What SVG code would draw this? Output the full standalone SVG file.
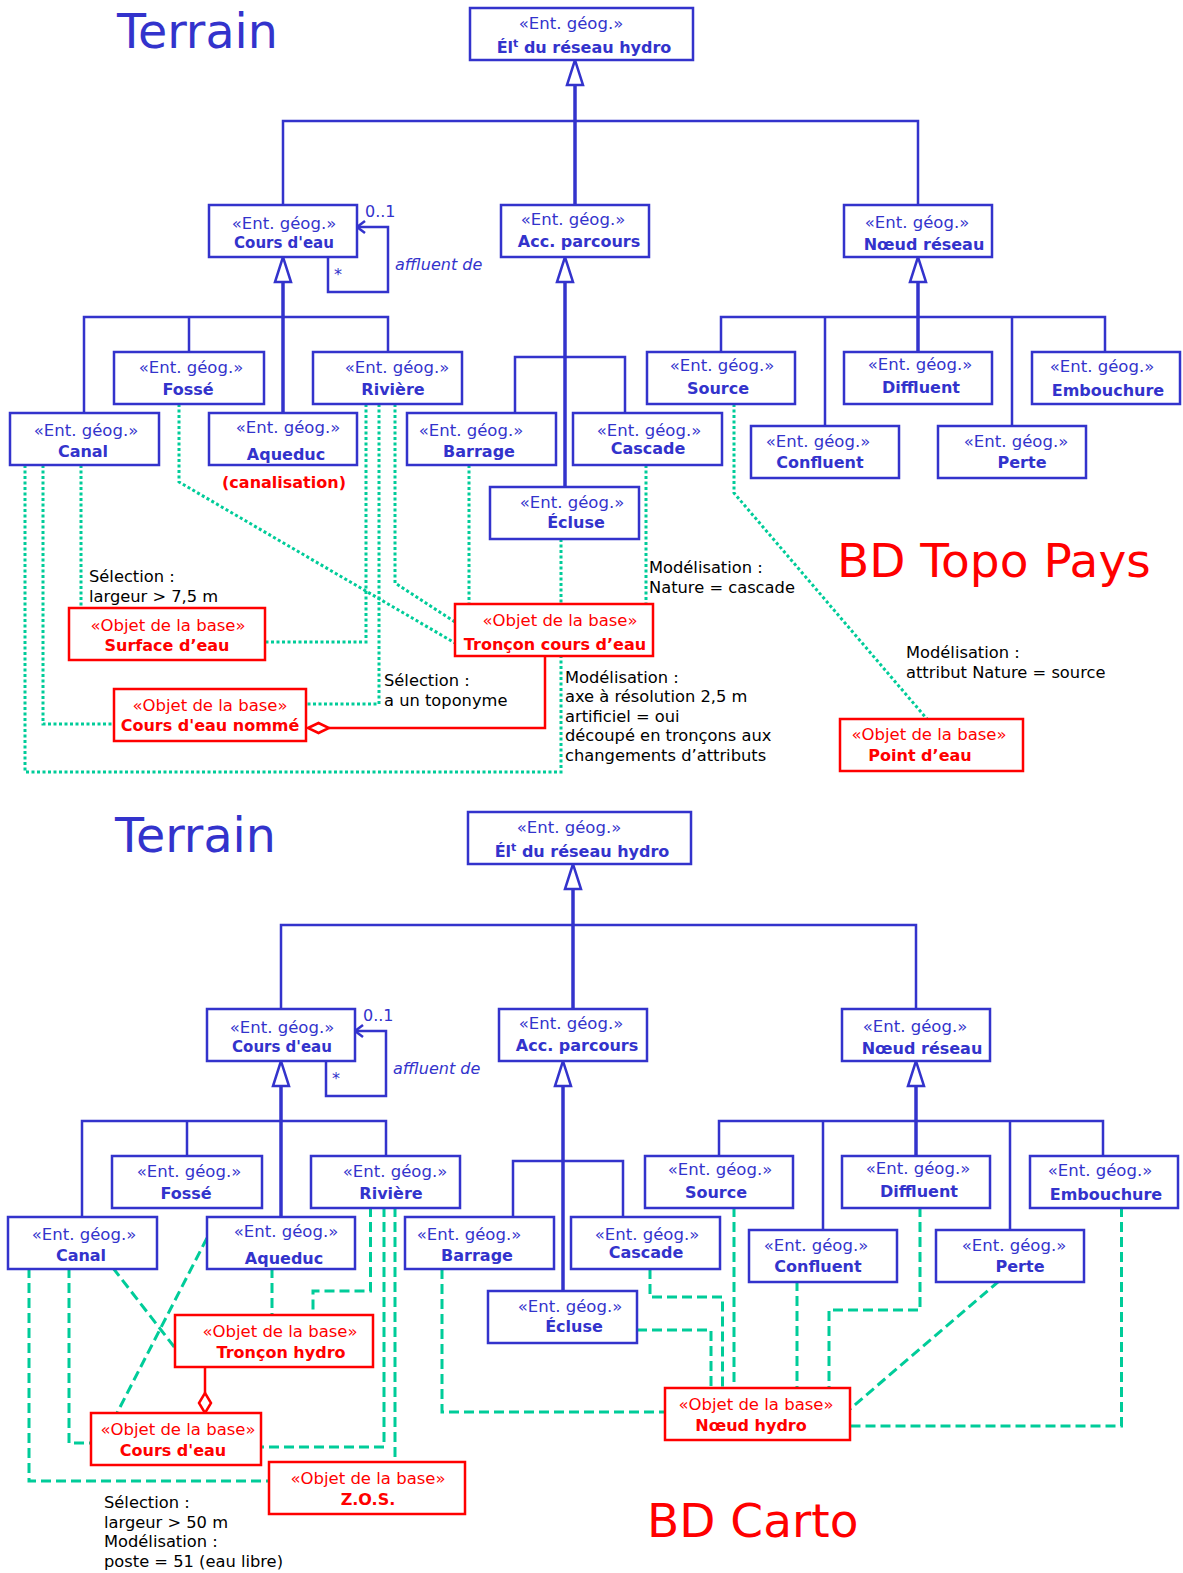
<svg xmlns="http://www.w3.org/2000/svg" width="1183" height="1573" viewBox="0 0 1183 1573">
<defs>
<style>
text{font-family:"DejaVu Sans",Verdana,sans-serif}
.bx{fill:#fff;stroke:#3333cc;stroke-width:2.5}
.rx{fill:#fff;stroke:#ff0000;stroke-width:2.5}
.st{font-size:16.5px;fill:#3333cc;text-anchor:middle}
.nm{font-size:16px;font-weight:bold;fill:#3333cc;text-anchor:middle}
.rs{font-size:16.5px;fill:#ff0000;text-anchor:middle}
.rn{font-size:16px;font-weight:bold;fill:#ff0000;text-anchor:middle}
.an{font-size:16.3px;fill:#000}
.lb{font-size:16px;fill:#3333cc}
.tb{font-size:47.5px;fill:#3333cc}
.tr{font-size:47px;fill:#ff0000}
.gl{fill:none;stroke:#3333cc;stroke-width:2.5}
.tk{fill:none;stroke:#3333cc;stroke-width:3.5}
.tri{fill:#fff;stroke:#3333cc;stroke-width:2.5}
.dot{fill:none;stroke:#00cc99;stroke-width:3;stroke-dasharray:3 2.5}
.dsh{fill:none;stroke:#00cc99;stroke-width:3;stroke-dasharray:10 5}
.ag{fill:none;stroke:#ff0000;stroke-width:2.5}
.dia{fill:#fff;stroke:#ff0000;stroke-width:2.5}
</style>
</defs>
<rect width="1183" height="1573" fill="#fff"/>

<!-- ================= TOP : BD Topo Pays ================= -->
<text class="tb" x="117" y="48">Terrain</text>
<text class="tr" x="837" y="577">BD Topo Pays</text>

<g id="top-generalisations">
<path class="tk" d="M575,85 V205"/>
<polygon class="tri" points="575,60 567,85 583,85"/>
<path class="gl" d="M283,205 V121 H918 V205"/>
<path class="tk" d="M283,282 V413"/>
<polygon class="tri" points="283,257 275,282 291,282"/>
<path class="gl" d="M84,413 V317 H388 V352 M189,317 V352"/>
<path class="tk" d="M565,282 V487"/>
<polygon class="tri" points="565,257 557,282 573,282"/>
<path class="gl" d="M515,413 V357 H625 V413"/>
<path class="tk" d="M918,282 V352"/>
<polygon class="tri" points="918,257 910,282 926,282"/>
<path class="gl" d="M721,352 V317 H1105 V352 M825,317 V426 M1012,317 V426"/>
<path class="gl" d="M357,227 H388 V292 H328 V257"/>
<path class="gl" d="M365,221 L357,227 L365,233"/>
<text class="lb" x="365" y="217">0..1</text>
<text class="lb" x="334" y="280">*</text>
<text class="lb" x="395" y="270" font-style="italic">affluent de</text>
</g>

<g id="top-correspondances">
<polyline class="dot" points="179,404 179,482 455,643"/>
<polyline class="dot" points="366,404 366,642 265,642"/>
<polyline class="dot" points="379,404 379,704 306,704"/>
<polyline class="dot" points="395,404 395,583 455,622"/>
<polyline class="dot" points="81,465 81,608"/>
<polyline class="dot" points="43,465 43,724 114,724"/>
<polyline class="dot" points="25,465 25,772 561,772 561,657"/>
<polyline class="dot" points="469,465 469,604"/>
<polyline class="dot" points="561,539 561,604"/>
<polyline class="dot" points="646,465 646,604"/>
<polyline class="dot" points="734,404 734,493 927,719"/>
<path class="ag" d="M329,728 H545 V657"/>
<polygon class="dia" points="308,728 318.5,723 329,728 318.5,733"/>
</g>

<g id="top-annotations">
<text class="an" x="89" y="582">Sélection :</text>
<text class="an" x="89" y="602">largeur &gt; 7,5 m</text>
<text class="an" x="649" y="573">Modélisation :</text>
<text class="an" x="649" y="593">Nature = cascade</text>
<text class="an" x="384" y="686">Sélection :</text>
<text class="an" x="384" y="706">a un toponyme</text>
<text class="an" x="565" y="683">Modélisation :</text>
<text class="an" x="565" y="702">axe à résolution 2,5 m</text>
<text class="an" x="565" y="722">artificiel = oui</text>
<text class="an" x="565" y="741">découpé en tronçons aux</text>
<text class="an" x="565" y="761">changements d’attributs</text>
<text class="an" x="906" y="658">Modélisation :</text>
<text class="an" x="906" y="678">attribut Nature = source</text>
</g>

<g id="t-root"><rect class="bx" x="470" y="8" width="223" height="52"/><text class="st" x="571" y="29">«Ent. géog.»</text><text class="nm" x="584" y="53">Él<tspan font-size="11" dy="-6">t</tspan><tspan dy="6"> du réseau hydro</tspan></text></g>
<g id="t-coursdeau"><rect class="bx" x="209" y="205" width="148" height="52"/><text class="st" x="284" y="229">«Ent. géog.»</text><text class="nm" x="284" y="248" style="font-size:15px">Cours d'eau</text></g>
<g id="t-accparcours"><rect class="bx" x="501" y="205" width="148" height="52"/><text class="st" x="573" y="225">«Ent. géog.»</text><text class="nm" x="579" y="247">Acc. parcours</text></g>
<g id="t-noeudreseau"><rect class="bx" x="844" y="205" width="148" height="52"/><text class="st" x="917" y="228">«Ent. géog.»</text><text class="nm" x="924" y="250">Nœud réseau</text></g>
<g id="t-fosse"><rect class="bx" x="114" y="352" width="150" height="52"/><text class="st" x="191" y="373">«Ent. géog.»</text><text class="nm" x="188" y="395">Fossé</text></g>
<g id="t-riviere"><rect class="bx" x="313" y="352" width="149" height="52"/><text class="st" x="397" y="373">«Ent. géog.»</text><text class="nm" x="393" y="395">Rivière</text></g>
<g id="t-canal"><rect class="bx" x="10" y="413" width="149" height="52"/><text class="st" x="86" y="436">«Ent. géog.»</text><text class="nm" x="83" y="457">Canal</text></g>
<g id="t-aqueduc"><rect class="bx" x="209" y="413" width="148" height="52"/><text class="st" x="288" y="433">«Ent. géog.»</text><text class="nm" x="286" y="460">Aqueduc</text><text class="rn" x="284" y="488">(canalisation)</text></g>
<g id="t-barrage"><rect class="bx" x="407" y="413" width="149" height="52"/><text class="st" x="471" y="436">«Ent. géog.»</text><text class="nm" x="479" y="457">Barrage</text></g>
<g id="t-cascade"><rect class="bx" x="573" y="413" width="149" height="52"/><text class="st" x="649" y="436">«Ent. géog.»</text><text class="nm" x="648" y="454">Cascade</text></g>
<g id="t-ecluse"><rect class="bx" x="490" y="487" width="149" height="52"/><text class="st" x="572" y="508">«Ent. géog.»</text><text class="nm" x="576" y="528">Écluse</text></g>
<g id="t-source"><rect class="bx" x="647" y="352" width="148" height="52"/><text class="st" x="722" y="371">«Ent. géog.»</text><text class="nm" x="718" y="394">Source</text></g>
<g id="t-diffluent"><rect class="bx" x="844" y="352" width="148" height="52"/><text class="st" x="920" y="370">«Ent. géog.»</text><text class="nm" x="921" y="393">Diffluent</text></g>
<g id="t-embouchure"><rect class="bx" x="1032" y="352" width="148" height="52"/><text class="st" x="1102" y="372">«Ent. géog.»</text><text class="nm" x="1108" y="396">Embouchure</text></g>
<g id="t-confluent"><rect class="bx" x="751" y="426" width="148" height="52"/><text class="st" x="818" y="447">«Ent. géog.»</text><text class="nm" x="820" y="468">Confluent</text></g>
<g id="t-perte"><rect class="bx" x="938" y="426" width="148" height="52"/><text class="st" x="1016" y="447">«Ent. géog.»</text><text class="nm" x="1022" y="468">Perte</text></g>

<g id="b-troncon-cours-eau"><rect class="rx" x="455" y="604" width="198" height="52"/><text class="rs" x="560" y="626">«Objet de la base»</text><text class="rn" x="555" y="650">Tronçon cours d’eau</text></g>
<g id="b-surface-eau"><rect class="rx" x="69" y="608" width="196" height="52"/><text class="rs" x="168" y="631">«Objet de la base»</text><text class="rn" x="167" y="651">Surface d’eau</text></g>
<g id="b-cours-eau-nomme"><rect class="rx" x="114" y="689" width="192" height="52"/><text class="rs" x="210" y="711">«Objet de la base»</text><text class="rn" x="210" y="731">Cours d'eau nommé</text></g>
<g id="b-point-eau"><rect class="rx" x="840" y="719" width="183" height="52"/><text class="rs" x="929" y="740">«Objet de la base»</text><text class="rn" x="920" y="761">Point d’eau</text></g>

<!-- ================= BOTTOM : BD Carto ================= -->
<text class="tr" x="647" y="1537">BD Carto</text>

<g id="bottom-correspondances">
<polyline class="dsh" points="29,1268 29,1481 269,1481"/>
<polyline class="dsh" points="69,1268 69,1443 91,1443"/>
<polyline class="dsh" points="113,1268 175,1348"/>
<polyline class="dsh" points="207,1238 117,1413"/>
<polyline class="dsh" points="272,1268 272,1315"/>
<polyline class="dsh" points="370.5,1207 370.5,1291 313,1291 313,1315"/>
<polyline class="dsh" points="384,1207 384,1447 261,1447"/>
<polyline class="dsh" points="395,1207 395,1462"/>
<polyline class="dsh" points="442,1269 442,1412 665,1412"/>
<polyline class="dsh" points="734,1207 734,1388"/>
<polyline class="dsh" points="650,1269 650,1297 722.5,1297 722.5,1388"/>
<polyline class="dsh" points="637,1330 711,1330 711,1388"/>
<polyline class="dsh" points="797,1281 797,1388"/>
<polyline class="dsh" points="920,1207 920,1310 829,1310 829,1388"/>
<polyline class="dsh" points="999,1281 850,1409"/>
<polyline class="dsh" points="1121.5,1207 1121.5,1426 850,1426"/>
<path class="ag" d="M205,1367 V1393"/>
<polygon class="dia" points="205,1393 211,1403 205,1413 199,1403"/>
</g>

<g id="bottom-annotations">
<text class="an" x="104" y="1508">Sélection :</text>
<text class="an" x="104" y="1528">largeur &gt; 50 m</text>
<text class="an" x="104" y="1547">Modélisation :</text>
<text class="an" x="104" y="1567">poste = 51 (eau libre)</text>
</g>

<g id="terrain-carto" transform="translate(-2,804)">
<text class="tb" x="117" y="48">Terrain</text>
<g id="bottom-generalisations">
<path class="tk" d="M575,85 V205"/>
<polygon class="tri" points="575,60 567,85 583,85"/>
<path class="gl" d="M283,205 V121 H918 V205"/>
<path class="tk" d="M283,282 V413"/>
<polygon class="tri" points="283,257 275,282 291,282"/>
<path class="gl" d="M84,413 V317 H388 V352 M189,317 V352"/>
<path class="tk" d="M565,282 V487"/>
<polygon class="tri" points="565,257 557,282 573,282"/>
<path class="gl" d="M515,413 V357 H625 V413"/>
<path class="tk" d="M918,282 V352"/>
<polygon class="tri" points="918,257 910,282 926,282"/>
<path class="gl" d="M721,352 V317 H1105 V352 M825,317 V426 M1012,317 V426"/>
<path class="gl" d="M357,227 H388 V292 H328 V257"/>
<path class="gl" d="M365,221 L357,227 L365,233"/>
<text class="lb" x="365" y="217">0..1</text>
<text class="lb" x="334" y="280">*</text>
<text class="lb" x="395" y="270" font-style="italic">affluent de</text>
</g>
<g id="c-root"><rect class="bx" x="470" y="8" width="223" height="52"/><text class="st" x="571" y="29">«Ent. géog.»</text><text class="nm" x="584" y="53">Él<tspan font-size="11" dy="-6">t</tspan><tspan dy="6"> du réseau hydro</tspan></text></g>
<g id="c-coursdeau"><rect class="bx" x="209" y="205" width="148" height="52"/><text class="st" x="284" y="229">«Ent. géog.»</text><text class="nm" x="284" y="248" style="font-size:15px">Cours d'eau</text></g>
<g id="c-accparcours"><rect class="bx" x="501" y="205" width="148" height="52"/><text class="st" x="573" y="225">«Ent. géog.»</text><text class="nm" x="579" y="247">Acc. parcours</text></g>
<g id="c-noeudreseau"><rect class="bx" x="844" y="205" width="148" height="52"/><text class="st" x="917" y="228">«Ent. géog.»</text><text class="nm" x="924" y="250">Nœud réseau</text></g>
<g id="c-fosse"><rect class="bx" x="114" y="352" width="150" height="52"/><text class="st" x="191" y="373">«Ent. géog.»</text><text class="nm" x="188" y="395">Fossé</text></g>
<g id="c-riviere"><rect class="bx" x="313" y="352" width="149" height="52"/><text class="st" x="397" y="373">«Ent. géog.»</text><text class="nm" x="393" y="395">Rivière</text></g>
<g id="c-canal"><rect class="bx" x="10" y="413" width="149" height="52"/><text class="st" x="86" y="436">«Ent. géog.»</text><text class="nm" x="83" y="457">Canal</text></g>
<g id="c-aqueduc"><rect class="bx" x="209" y="413" width="148" height="52"/><text class="st" x="288" y="433">«Ent. géog.»</text><text class="nm" x="286" y="460">Aqueduc</text></g>
<g id="c-barrage"><rect class="bx" x="407" y="413" width="149" height="52"/><text class="st" x="471" y="436">«Ent. géog.»</text><text class="nm" x="479" y="457">Barrage</text></g>
<g id="c-cascade"><rect class="bx" x="573" y="413" width="149" height="52"/><text class="st" x="649" y="436">«Ent. géog.»</text><text class="nm" x="648" y="454">Cascade</text></g>
<g id="c-ecluse"><rect class="bx" x="490" y="487" width="149" height="52"/><text class="st" x="572" y="508">«Ent. géog.»</text><text class="nm" x="576" y="528">Écluse</text></g>
<g id="c-source"><rect class="bx" x="647" y="352" width="148" height="52"/><text class="st" x="722" y="371">«Ent. géog.»</text><text class="nm" x="718" y="394">Source</text></g>
<g id="c-diffluent"><rect class="bx" x="844" y="352" width="148" height="52"/><text class="st" x="920" y="370">«Ent. géog.»</text><text class="nm" x="921" y="393">Diffluent</text></g>
<g id="c-embouchure"><rect class="bx" x="1032" y="352" width="148" height="52"/><text class="st" x="1102" y="372">«Ent. géog.»</text><text class="nm" x="1108" y="396">Embouchure</text></g>
<g id="c-confluent"><rect class="bx" x="751" y="426" width="148" height="52"/><text class="st" x="818" y="447">«Ent. géog.»</text><text class="nm" x="820" y="468">Confluent</text></g>
<g id="c-perte"><rect class="bx" x="938" y="426" width="148" height="52"/><text class="st" x="1016" y="447">«Ent. géog.»</text><text class="nm" x="1022" y="468">Perte</text></g>
</g>

<g id="c-troncon-hydro"><rect class="rx" x="175" y="1315" width="198" height="52"/><text class="rs" x="280" y="1337">«Objet de la base»</text><text class="rn" x="281" y="1358">Tronçon hydro</text></g>
<g id="c-cours-eau"><rect class="rx" x="91" y="1413" width="170" height="52"/><text class="rs" x="178" y="1435">«Objet de la base»</text><text class="rn" x="173" y="1456">Cours d'eau</text></g>
<g id="c-zos"><rect class="rx" x="269" y="1462" width="196" height="52"/><text class="rs" x="368" y="1484">«Objet de la base»</text><text class="rn" x="368" y="1505">Z.O.S.</text></g>
<g id="c-noeud-hydro"><rect class="rx" x="665" y="1388" width="185" height="52"/><text class="rs" x="756" y="1410">«Objet de la base»</text><text class="rn" x="751" y="1431">Nœud hydro</text></g>
</svg>
